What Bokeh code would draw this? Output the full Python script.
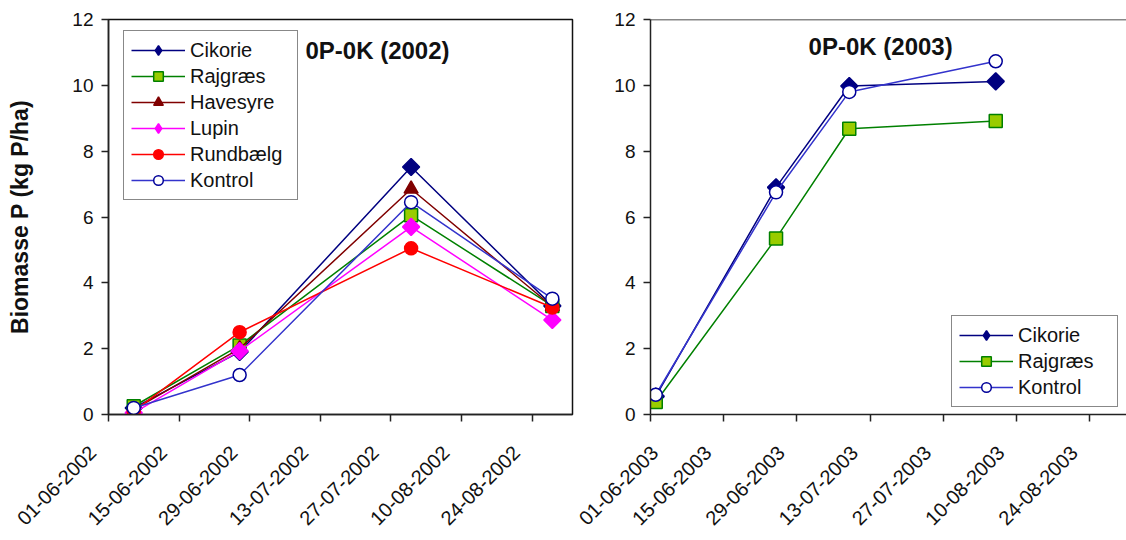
import math
import pandas as pd
from bokeh.plotting import figure
from bokeh.layouts import row
from bokeh.models import (Range1d, FixedTicker, DatetimeTickFormatter, Legend, LegendItem,
                          Label, Span)
from bokeh.embed import file_html
from bokeh.resources import INLINE

# ---------------- data ----------------
dates_2002 = ["2002-06-06", "2002-06-27", "2002-07-31", "2002-08-28"]
cikorie_2002 = [0.20, 1.90, 7.52, 3.30]
rajgraes_2002 = [0.25, 2.10, 6.05, 3.30]
havesyre_2002 = [0.15, 2.00, 6.85, 3.28]
lupin_2002 = [0.05, 1.93, 5.70, 2.87]
rundbaelg_2002 = [0.10, 2.50, 5.05, 3.25]
kontrol_2002 = [0.20, 1.20, 6.45, 3.52]

dates_2003 = ["2003-06-02", "2003-06-25", "2003-07-09", "2003-08-06"]
cikorie_2003 = [0.55, 6.90, 9.98, 10.12]
rajgraes_2003 = [0.38, 5.35, 8.68, 8.92]
kontrol_2003 = [0.60, 6.75, 9.80, 10.73]

ticks_2002 = ["01-06-2002", "15-06-2002", "29-06-2002", "13-07-2002",
              "27-07-2002", "10-08-2002", "24-08-2002"]
ticks_2003 = ["01-06-2003", "15-06-2003", "29-06-2003", "13-07-2003",
              "27-07-2003", "10-08-2003", "24-08-2003"]
y_ticks = [0, 2, 4, 6, 8, 10, 12]

FONT = "Liberation Sans"
EPOCH = pd.Timestamp("1970-01-01")
NBSP = "\u00a0"


def to_ms(labels):
    return [(pd.to_datetime(s, format="%d-%m-%Y") - EPOCH) / pd.Timedelta(milliseconds=1) for s in labels]


def to_dt(strs):
    return list(pd.to_datetime(strs))


styles = {
    "Cikorie": dict(line="#000080", marker="square", angle=math.pi / 4, size=12, fill="#000080", edge="#000080", leg="diamond"),
    "Rajgræs": dict(line="#008000", marker="square", angle=0, size=13, fill="#99CC00", edge="#008000", leg=None),
    "Havesyre": dict(line="#800000", marker="triangle", angle=0, size=14, fill="#800000", edge="#800000", leg=None),
    "Lupin": dict(line="#FF00FF", marker="square", angle=math.pi / 4, size=12, fill="#FF00FF", edge="#FF00FF", leg="diamond"),
    "Rundbælg": dict(line="#FF0000", marker="circle", angle=0, size=13, fill="#FF0000", edge="#FF0000", leg=None),
    "Kontrol": dict(line="#3333CC", marker="circle", angle=0, size=13, fill="#FFFFFF", edge="#000099", leg=None),
}


def make_fig(width, height, x0, x1, tick_labels, bl, br, bt, bb, ylabel):
    p = figure(width=width, height=height, x_axis_type="datetime",
               x_range=Range1d(pd.Timestamp(x0), pd.Timestamp(x1)), y_range=Range1d(0, 12),
               output_backend="svg", toolbar_location=None,
               min_border_left=bl, min_border_right=br, min_border_top=bt, min_border_bottom=bb)
    p.xgrid.visible = False
    p.ygrid.visible = False
    p.xaxis.ticker = FixedTicker(ticks=to_ms(tick_labels))
    fmt = "%d-%m-%Y" + NBSP * 4
    p.xaxis.formatter = DatetimeTickFormatter(days=fmt, months=fmt, years=fmt, hours=fmt,
                                              minutes=fmt, seconds=fmt, milliseconds=fmt,
                                              microseconds=fmt, minsec=fmt, hourmin=fmt)
    p.xaxis.major_label_orientation = math.pi / 4
    p.yaxis.ticker = FixedTicker(ticks=y_ticks)
    for ax in (p.xaxis[0], p.yaxis[0]):
        ax.axis_line_color = "#222222"
        ax.axis_line_width = 1.5
        ax.major_tick_line_color = "#222222"
        ax.major_tick_line_width = 1.5
        ax.major_tick_out = 7
        ax.major_tick_in = 0
        ax.minor_tick_line_color = None
        ax.major_label_text_font = FONT
        ax.major_label_text_color = "#111111"
    p.yaxis.major_label_text_font_size = "19px"
    p.yaxis.major_label_standoff = 8
    p.xaxis.major_label_text_font_size = "20px"
    p.xaxis.major_label_standoff = 12
    if ylabel:
        p.yaxis.axis_label = ylabel
        p.yaxis.axis_label_text_font = FONT
        p.yaxis.axis_label_text_font_style = "bold"
        p.yaxis.axis_label_text_font_size = "23px"
        p.yaxis.axis_label_text_color = "#111111"
        p.yaxis.axis_label_standoff = 36
    p.background_fill_color = "white"
    p.border_fill_color = "white"
    return p


def add_series(p, dates, vals, name):
    st = styles[name]
    x = to_dt(dates)
    r1 = p.line(x, vals, line_color=st["line"], line_width=1.5)
    r2 = p.scatter(x, vals, marker=st["marker"], angle=st["angle"], size=st["size"],
                   fill_color=st["fill"], line_color=st["edge"], line_width=1.5)
    if st["leg"]:
        # legend-only glyph (no visible point): shows the diamond shape in the key
        r3 = p.scatter([float("nan")], [float("nan")], marker=st["leg"], size=st["size"],
                       fill_color=st["fill"], line_color=st["edge"], line_width=1.5)
        return LegendItem(label=name, renderers=[r1, r3])
    return LegendItem(label=name, renderers=[r1, r2])


def style_legend(leg, spacing, label_width):
    leg.label_text_font = FONT
    leg.label_text_font_size = "20px"
    leg.label_text_color = "#111111"
    leg.glyph_width = 54
    leg.glyph_height = 24
    leg.label_height = 20
    leg.label_width = label_width
    leg.label_standoff = 5
    leg.spacing = spacing
    leg.padding = 7
    leg.margin = 0
    leg.border_line_color = "#111111"
    leg.border_line_width = 1.5
    leg.background_fill_alpha = 1.0


# ---------------- left panel (2002) ----------------
p1 = make_fig(574, 540, "2002-06-01", "2002-09-01", ticks_2002, 108, 2, 19, 123,
              "Biomasse P (kg P/ha)")
p1.outline_line_color = "#111111"
p1.outline_line_width = 1.5
items1 = []
for name, vals in [("Cikorie", cikorie_2002), ("Rajgræs", rajgraes_2002),
                   ("Havesyre", havesyre_2002), ("Lupin", lupin_2002),
                   ("Rundbælg", rundbaelg_2002), ("Kontrol", kontrol_2002)]:
    items1.append(add_series(p1, dates_2002, vals, name))
leg1 = Legend(items=items1, location=(15, 214))
style_legend(leg1, 2, 100)
p1.add_layout(leg1, "center")
p1.add_layout(Label(x=pd.Timestamp("2002-07-25"), y=11.05, text="0P-0K  (2002)",
                    text_font=FONT, text_font_style="bold", text_font_size="24px",
                    text_align="center", text_baseline="middle", text_color="#111111"))

# ---------------- right panel (2003) ----------------
p2 = make_fig(552, 540, "2003-06-01", "2003-08-31", ticks_2003, 76, 0, 19, 123, None)
p2.outline_line_color = None
p2.add_layout(Span(location=12, dimension="width", line_color="#111111", line_width=1.5))
items2 = []
for name, vals in [("Cikorie", cikorie_2003), ("Rajgræs", rajgraes_2003),
                   ("Kontrol", kontrol_2003)]:
    items2.append(add_series(p2, dates_2003, vals, name))
leg2 = Legend(items=items2, location=(301, 7))
style_legend(leg2, 2, 92)
p2.add_layout(leg2, "center")
p2.add_layout(Label(x=pd.Timestamp("2003-07-15"), y=11.18, text="0P-0K (2003)",
                    text_font=FONT, text_font_style="bold", text_font_size="24px",
                    text_align="center", text_baseline="middle", text_color="#111111"))

layout = row(p1, p2)
open("out.html", "w").write(file_html(layout, INLINE))
